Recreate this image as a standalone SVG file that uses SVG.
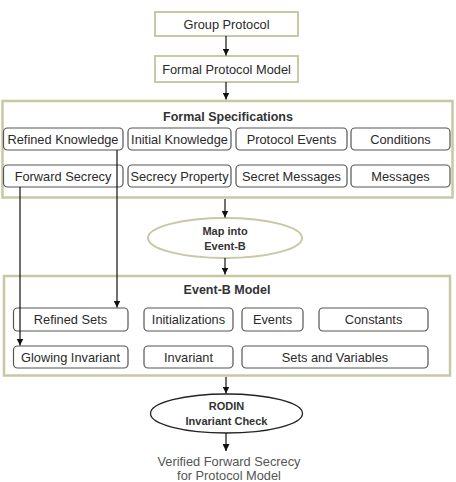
<svg xmlns="http://www.w3.org/2000/svg" width="456" height="482" viewBox="0 0 456 482">
<style>
.outer{fill:#fff;stroke:#c8c8a4;stroke-width:2.5}
.top{fill:#fff;stroke:#c8c8a4;stroke-width:2}
.box{fill:#fff;stroke:#555;stroke-width:1.2}
.t{font-family:"Liberation Sans",Arial,sans-serif;font-size:12.8px;fill:#2a2a2a;text-anchor:middle}
.b{font-family:"Liberation Sans",Arial,sans-serif;font-size:12.5px;font-weight:bold;fill:#333;text-anchor:middle}
.e{font-family:"Liberation Sans",Arial,sans-serif;font-size:11px;font-weight:bold;fill:#333;text-anchor:middle}
.v{font-family:"Liberation Sans",Arial,sans-serif;font-size:12.8px;fill:#555;text-anchor:middle}
.c{fill:none;stroke:#111;stroke-width:1.2;marker-end:url(#ah)}
</style>
<defs>
<marker id="ah" viewBox="0 0 8 8" refX="8" refY="4" markerWidth="7" markerHeight="7" markerUnits="userSpaceOnUse" orient="auto">
<path d="M0,0L8,4L0,8z" fill="#111"/>
</marker>
</defs>
<rect width="456" height="482" fill="#fff"/>
<g id="group-protocol"><rect class="top" x="155" y="12" width="143" height="24"/><text class="t" x="226.5" y="28.5">Group Protocol</text></g>
<g id="formal-protocol-model"><rect class="top" x="155" y="56" width="143" height="26"/><text class="t" x="226.5" y="73.5">Formal Protocol Model</text></g>
<g id="formal-specifications"><rect class="outer" x="2.5" y="101" width="450" height="96.5"/><text class="b" x="228" y="121">Formal Specifications</text></g>
<g id="refined-knowledge"><rect class="box" x="3.5" y="128" width="119.5" height="22" rx="4"/><text class="t" x="63" y="143.5">Refined Knowledge</text></g>
<g id="initial-knowledge"><rect class="box" x="128" y="128" width="103" height="22" rx="4"/><text class="t" x="179.5" y="143.5">Initial Knowledge</text></g>
<g id="protocol-events"><rect class="box" x="236" y="128" width="111" height="22" rx="4"/><text class="t" x="291.5" y="143.5">Protocol Events</text></g>
<g id="conditions"><rect class="box" x="351" y="128" width="99" height="22" rx="4"/><text class="t" x="400.5" y="143.5">Conditions</text></g>
<g id="forward-secrecy"><rect class="box" x="3.5" y="165" width="119.5" height="22" rx="4"/><text class="t" x="63" y="180.5">Forward Secrecy</text></g>
<g id="secrecy-property"><rect class="box" x="128" y="165" width="103" height="22" rx="4"/><text class="t" x="179.5" y="180.5">Secrecy Property</text></g>
<g id="secret-messages"><rect class="box" x="236" y="165" width="111" height="22" rx="4"/><text class="t" x="291.5" y="180.5">Secret Messages</text></g>
<g id="messages"><rect class="box" x="351" y="165" width="99" height="22" rx="4"/><text class="t" x="400.5" y="180.5">Messages</text></g>
<g id="map-into-event-b"><ellipse cx="225" cy="238" rx="77" ry="20" fill="#fff" stroke="#c8c8a4" stroke-width="2"/><text class="e" x="225" y="235">Map into</text><text class="e" x="225" y="250">Event-B</text></g>
<g id="event-b-model"><rect class="outer" x="4" y="276" width="446" height="99.5"/><text class="b" x="227" y="294">Event-B Model</text></g>
<g id="refined-sets"><rect class="box" x="13.5" y="308" width="114.5" height="23" rx="4"/><text class="t" x="70.5" y="324">Refined Sets</text></g>
<g id="initializations"><rect class="box" x="144" y="308" width="89" height="23" rx="4"/><text class="t" x="188.5" y="324">Initializations</text></g>
<g id="events"><rect class="box" x="242" y="308" width="61" height="23" rx="4"/><text class="t" x="272.5" y="324">Events</text></g>
<g id="constants"><rect class="box" x="319" y="308" width="109" height="23" rx="4"/><text class="t" x="373.5" y="324">Constants</text></g>
<g id="glowing-invariant"><rect class="box" x="13.5" y="346" width="114.5" height="22" rx="4"/><text class="t" x="70.5" y="361.5">Glowing Invariant</text></g>
<g id="invariant"><rect class="box" x="144" y="346" width="89" height="22" rx="4"/><text class="t" x="188.5" y="361.5">Invariant</text></g>
<g id="sets-and-variables"><rect class="box" x="242" y="346" width="186" height="22" rx="4"/><text class="t" x="335" y="361.5">Sets and Variables</text></g>
<g id="rodin"><ellipse cx="226.5" cy="413.5" rx="76" ry="19.5" fill="#fff" stroke="#222" stroke-width="1.3"/><text class="e" x="226.5" y="410">RODIN</text><text class="e" x="226.5" y="425">Invariant Check</text></g>
<g id="verified"><text class="v" x="229" y="466">Verified Forward Secrecy</text><text class="v" x="229" y="480">for Protocol Model</text></g>
<g id="connectors">
<path class="c" d="M226,36V55.5"/>
<path class="c" d="M226,82V99.5"/>
<path class="c" d="M225,199V217.5"/>
<path class="c" d="M225,258V274.5"/>
<path class="c" d="M226,377V393.5"/>
<path class="c" d="M226,433V451"/>
<path class="c" d="M117,150V307.5"/>
<path class="c" d="M20,187V345.5"/>
</g>
</svg>
